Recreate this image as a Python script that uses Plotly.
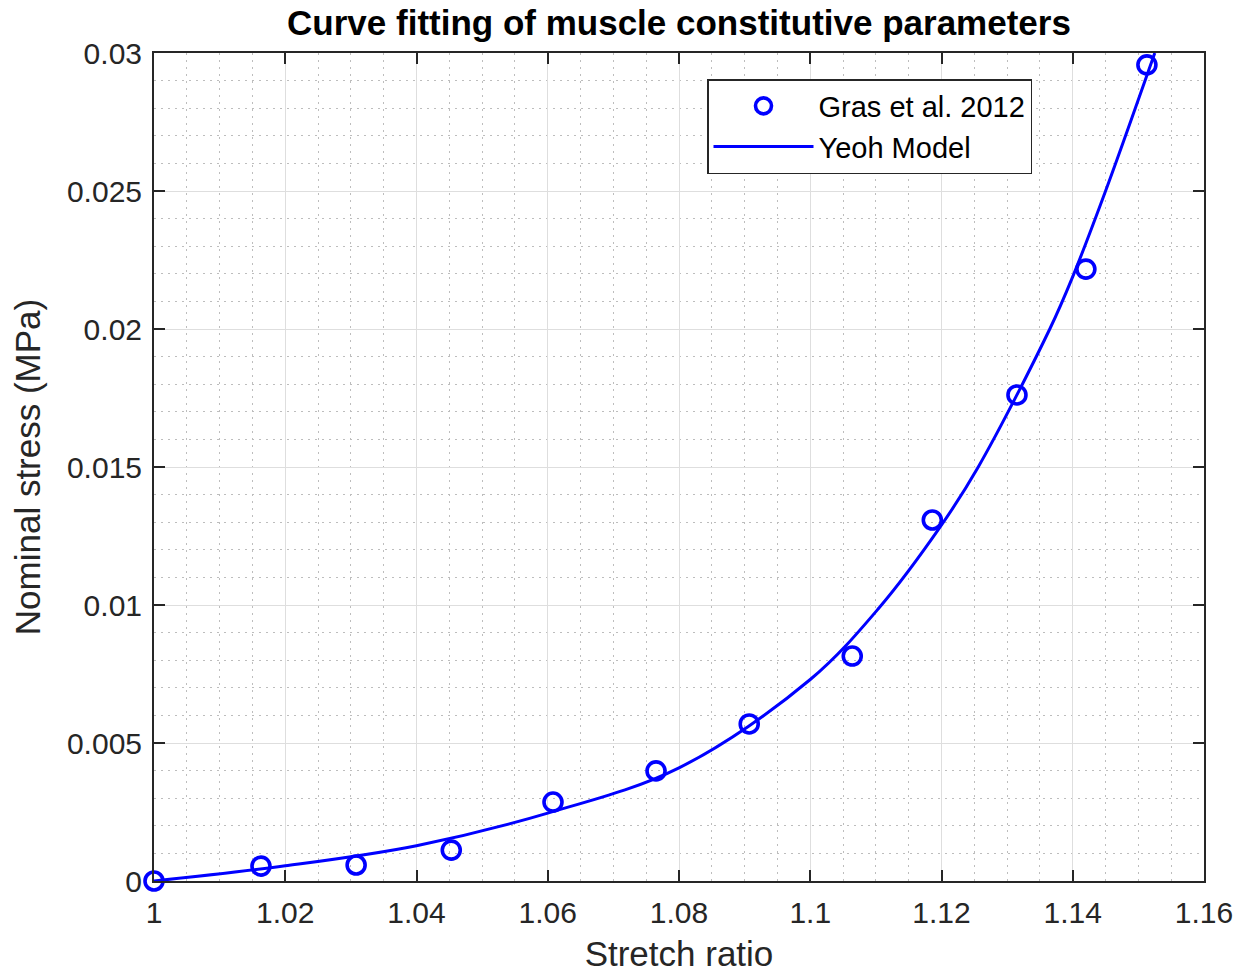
import plotly.graph_objects as go

# Experimental data (Gras et al. 2012)
exp_stretch = [1.0, 1.0163, 1.0308, 1.0453, 1.0608, 1.0765, 1.0907, 1.1064, 1.1186, 1.1315, 1.1420, 1.1513]
exp_stress = [0.0, 0.00054, 0.00058, 0.00112, 0.00286, 0.00399, 0.00569, 0.00815, 0.01308, 0.01761, 0.02217, 0.02957]

# Yeoh model curve (at grid-line crossings)
model_stretch = [1.0, 1.02, 1.04, 1.06, 1.08, 1.10, 1.1105, 1.1198, 1.1256,
                 1.1365, 1.14, 1.145, 1.1525]
model_stress = [0.0, 0.00055, 0.00128, 0.00246, 0.00410, 0.0073, 0.0099, 0.01283, 0.0150,
                0.0200, 0.0219, 0.0250, 0.0300]

x_ticks = [1.0, 1.02, 1.04, 1.06, 1.08, 1.1, 1.12, 1.14, 1.16]
x_tick_labels = ["1", "1.02", "1.04", "1.06", "1.08", "1.1", "1.12", "1.14", "1.16"]
y_ticks = [0, 0.005, 0.01, 0.015, 0.02, 0.025, 0.03]
y_tick_labels = ["0", "0.005", "0.01", "0.015", "0.02", "0.025", "0.03"]

FONT = "Liberation Sans, Arial, Helvetica, sans-serif"
AX = "#262626"
BLUE = "#0000ff"

W, H = 1246, 973

fig = go.Figure()
fig.add_trace(go.Scatter(
    x=exp_stretch, y=exp_stress, mode="markers", name="Gras et al. 2012",
    marker=dict(symbol="circle-open", size=18, color=BLUE, line=dict(width=3.6, color=BLUE)),
    cliponaxis=False,
))
fig.add_trace(go.Scatter(
    x=model_stretch, y=model_stress, mode="lines", name="Yeoh Model",
    line=dict(color=BLUE, width=3, shape="spline", smoothing=1.0),
))

axis_common = dict(
    showline=True, linecolor=AX, linewidth=2, mirror="ticks",
    ticks="inside", ticklen=11, tickwidth=2, tickcolor=AX,
    showgrid=True, gridcolor="#dedede", gridwidth=1.2,
    zeroline=False, automargin=False,
    ticklabelstandoff=4,
    tickfont=dict(family=FONT, size=30, color=AX),
)

fig.update_layout(
    width=W, height=H,
    margin=dict(l=154, r=42, t=53, b=92),
    paper_bgcolor="white", plot_bgcolor="white",
    title=dict(text="<b>Curve fitting of muscle constitutive parameters</b>",
               font=dict(family=FONT, size=35, color="black"),
               x=0.5, xref="paper", y=1 - 23 / H, yref="container", yanchor="middle"),
    xaxis=dict(
        range=[1.0, 1.16], tickvals=x_ticks, ticktext=x_tick_labels,
        title=dict(text="Stretch ratio", font=dict(family=FONT, size=35, color=AX), standoff=16),
        minor=dict(dtick=0.005, showgrid=True, griddash="2px,5px", gridcolor="#bdbdbd", gridwidth=1, ticks=""),
        **axis_common,
    ),
    yaxis=dict(
        range=[0, 0.03], tickvals=y_ticks, ticktext=y_tick_labels,
        title=dict(text="Nominal stress (MPa)", font=dict(family=FONT, size=35, color=AX), standoff=16),
        minor=dict(dtick=0.001, showgrid=True, griddash="2px,5px", gridcolor="#bdbdbd", gridwidth=1, ticks=""),
        **axis_common,
    ),
    legend=dict(
        x=(707 - 154) / 1050, y=(881 - 79) / 828, xanchor="left", yanchor="top",
        bgcolor="white", bordercolor=AX, borderwidth=1.5,
        font=dict(family=FONT, size=29, color="black"),
        itemwidth=100, tracegroupgap=0,
    ),
    showlegend=True,
)

# remove the browser's default 8px page margin so the figure fills the window exactly
fig.write_html("out.html",
               config={"displayModeBar": False},
               post_script="document.body.style.margin='0';document.body.style.overflow='hidden';")
